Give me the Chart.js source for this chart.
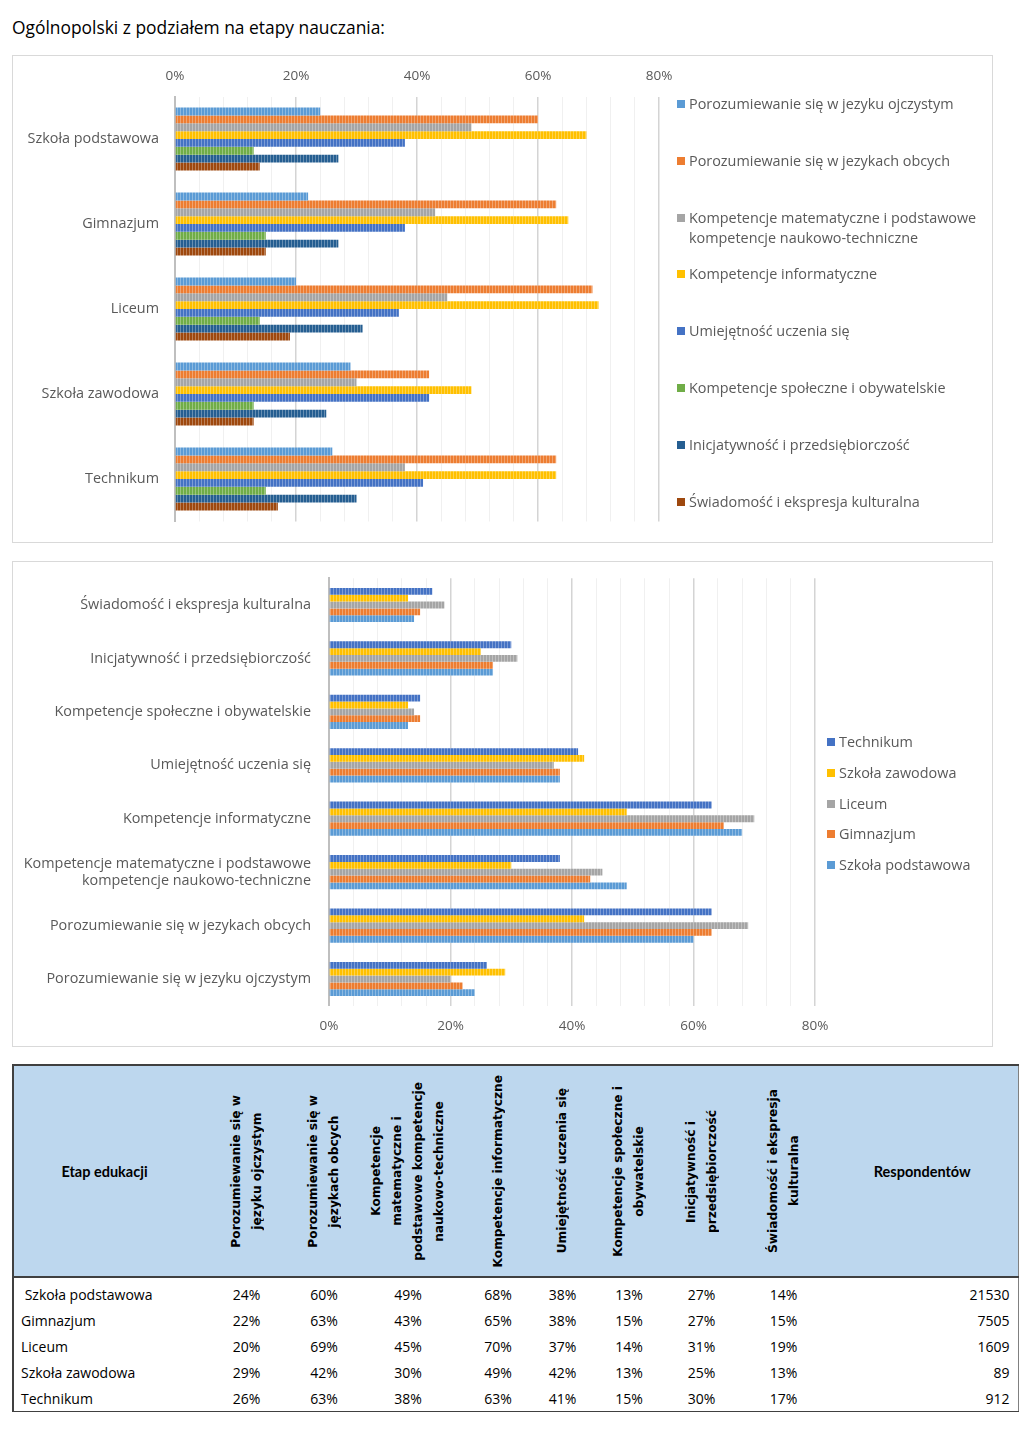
<!DOCTYPE html>
<html lang="pl">
<head>
<meta charset="utf-8">
<title>Kompetencje - etapy nauczania</title>
<script src="https://cdn.jsdelivr.net/npm/chart.js@4.4.1/dist/chart.umd.min.js"></script>
<style>
    body { margin: 0; width: 1024px; height: 1429px; background: #fff; position: relative; overflow: hidden;
           font-family: 'Open Sans', sans-serif; }
    .title { position: absolute; left: 12px; top: 15px; font-size: 17.4px; line-height: 24px; color: #000; }
    .box { position: absolute; left: 12px; width: 979px; border: 1px solid #d9d9d9; background: #fff; }
    #box1 { top: 55px; height: 486px; }
    #box2 { top: 561px; height: 484px; }
    .box canvas { position: absolute; left: 0; top: 0; }
    .legend { position: absolute; left: 0; top: 0; font-size: 14.4px; color: #595959; }
    .legend .item { position: absolute; white-space: nowrap; line-height: 20px; }
    .legend .sw { position: absolute; left: 0; top: 6px; width: 8px; height: 8px; }
    .legend .txt { position: absolute; left: 12px; top: 0; }
    #tbl { position: absolute; left: 12px; top: 1064px; width: 1005px; border-collapse: collapse; table-layout: fixed;
           font-size: 14px; color: #000; border-left: 2px solid #404040; border-right: 1px solid #808080;
           border-bottom: 1px solid #404040; }
    #tbl th { background: #bdd7ee; height: 210px; padding: 0; border-top: 2px solid #404040;
              border-bottom: 2px solid #404040; }
    #tbl th.plain { font-family: Lato, sans-serif; font-weight: bold; font-size: 14.5px; }
    #tbl th.rot div { writing-mode: vertical-rl; transform: rotate(180deg); margin: 0 auto;
                      font-family: 'DejaVu Sans', sans-serif; font-weight: bold; font-size: 12.2px;
                      line-height: 21px; text-align: center; white-space: nowrap; }
    #tbl td { height: 26px; padding: 0; text-align: center; }
    #tbl td.name { text-align: left; padding-left: 7px; }
    #tbl td.num { text-align: right; padding-right: 8px; }
    #tbl tr.gap td { height: 3px; }
</style>
</head>
<body>
<div class="title">Ogólnopolski z podziałem na etapy nauczania:</div>
<div class="box" id="box1"><canvas id="chart1" width="979" height="486"></canvas><div class="legend" id="legend1"></div></div>
<div class="box" id="box2"><canvas id="chart2" width="979" height="484"></canvas><div class="legend" id="legend2"></div></div>
<table id="tbl"></table>
<script>
    // etapy nauczania
    const schools = ['Szkoła podstawowa', 'Gimnazjum', 'Liceum', 'Szkoła zawodowa', 'Technikum'];
    // kompetencje (kolejność jak w tabeli)
    const competences = [
        'Porozumiewanie się w jezyku ojczystym',
        'Porozumiewanie się w jezykach obcych',
        ['Kompetencje matematyczne i podstawowe', 'kompetencje naukowo-techniczne'],
        'Kompetencje informatyczne',
        'Umiejętność uczenia się',
        'Kompetencje społeczne i obywatelskie',
        'Inicjatywność i przedsiębiorczość',
        'Świadomość i ekspresja kulturalna'
    ];
    const table_headers = [
        ['Porozumiewanie się w', 'języku ojczystym'],
        ['Porozumiewanie się w', 'językach obcych'],
        ['Kompetencje', 'matematyczne i', 'podstawowe kompetencje', 'naukowo-techniczne'],
        ['Kompetencje informatyczne'],
        ['Umiejętność uczenia się'],
        ['Kompetencje społeczne i', 'obywatelskie'],
        ['Inicjatywność i', 'przedsiębiorczość'],
        ['Świadomość i ekspresja', 'kulturalna']
    ];
    // wartości w % dla każdego etapu
    const szkola_podstawowa = [24, 60, 49, 68, 38, 13, 27, 14];
    const gimnazjum = [22, 63, 43, 65, 38, 15, 27, 15];
    const liceum = [20, 69, 45, 70, 37, 14, 31, 19];
    const szkola_zawodowa = [29, 42, 30, 49, 42, 13, 25, 13];
    const technikum = [26, 63, 38, 63, 41, 15, 30, 17];
    const respondents = [21530, 7505, 1609, 89, 912];
    const x_ticks = [0, 20, 40, 60, 80];

    const competence_colors = ['#5b9bd5', '#ed7d31', '#a5a5a5', '#ffc000', '#4472c4', '#70ad47', '#255e91', '#9e480e'];
    const school_colors = ['#5b9bd5', '#ed7d31', '#a5a5a5', '#ffc000', '#4472c4'];
    const rows = [szkola_podstawowa, gimnazjum, liceum, szkola_zawodowa, technikum];

    Chart.defaults.font.family = "'Open Sans', sans-serif";
    Chart.defaults.color = '#595959';

    function hatch(color) {
        const c = document.createElement('canvas');
        c.width = 3;
        c.height = 3;
        const g = c.getContext('2d');
        g.fillStyle = color;
        g.fillRect(0, 0, 3, 3);
        g.fillStyle = 'rgba(255,255,255,0.3)';
        g.fillRect(2, 0, 1, 3);
        return g.createPattern(c, 'repeat');
    }

    function is_major(v) {
        return x_ticks.indexOf(Math.round(v)) !== -1 && Math.abs(v - Math.round(v)) < 1e-6;
    }

    function value_axis(position, padding, height) {
        return {
            position: position,
            min: 0,
            max: 80,
            border: { display: false },
            grid: {
                drawTicks: false,
                color: (ctx) => (ctx.tick && is_major(ctx.tick.value)) ? '#d4d4d4' : '#f0f0f0',
                lineWidth: (ctx) => (ctx.tick && is_major(ctx.tick.value)) ? 1.5 : 1
            },
            ticks: {
                stepSize: 4,
                autoSkip: false,
                maxRotation: 0,
                padding: padding,
                font: { size: 13.5 },
                callback: (v) => is_major(v) ? Math.round(v) + '%' : ''
            },
            afterFit: (scale) => { scale.height = height; }
        };
    }

    function category_axis(width, padding) {
        return {
            grid: { display: false, drawTicks: false },
            border: { color: '#bfbfbf', width: 2 },
            ticks: { padding: padding, font: { size: 14.4 }, color: '#595959', autoSkip: false },
            afterFit: (scale) => {
                // the plot area is set by layout padding only
                scale.width = width;
                scale.paddingTop = 0;
                scale.paddingBottom = 0;
            }
        };
    }

    function build_legend(elem, items, left, first, step) {
        items.forEach((it, i) => {
            const div = document.createElement('div');
            div.className = 'item';
            div.style.left = left + 'px';
            div.style.top = (first + i * step - 10) + 'px';
            const sw = document.createElement('div');
            sw.className = 'sw';
            sw.style.background = it.color;
            const txt = document.createElement('div');
            txt.className = 'txt';
            txt.innerHTML = [].concat(it.label).join('<br>');
            div.appendChild(sw);
            div.appendChild(txt);
            elem.appendChild(div);
        });
    }

    // wykres 1: etapy na osi, kompetencje jako serie
    const datasets1 = competences.map((name, j) => ({
        label: [].concat(name).join(' '),
        data: rows.map((r) => r[j]),
        backgroundColor: hatch(competence_colors[j]),
        borderWidth: 0,
        categoryPercentage: 0.74,
        barPercentage: 1.0
    }));

    new Chart(document.getElementById('chart1'), {
        type: 'bar',
        data: { labels: schools, datasets: datasets1 },
        options: {
            indexAxis: 'y',
            responsive: false,
            animation: false,
            layout: { padding: { left: 0, top: 0, right: 333, bottom: 20.5 } },
            plugins: { legend: { display: false }, tooltip: { enabled: false } },
            scales: {
                x: value_axis('top', 12.5, 40.5),
                y: category_axis(162, 16)
            }
        }
    });
    build_legend(document.getElementById('legend1'),
        competences.map((name, j) => ({ label: name, color: competence_colors[j] })),
        664, 48, 56.8);

    // wykres 2: kompetencje na osi, etapy jako serie (od góry: Technikum)
    const order2 = [4, 3, 2, 1, 0];
    const comp_rev = competences.slice().reverse();
    const datasets2 = order2.map((s) => ({
        label: schools[s],
        data: rows[s].slice().reverse(),
        backgroundColor: hatch(school_colors[s]),
        borderWidth: 0,
        categoryPercentage: 0.64,
        barPercentage: 1.0
    }));

    new Chart(document.getElementById('chart2'), {
        type: 'bar',
        data: { labels: comp_rev, datasets: datasets2 },
        options: {
            indexAxis: 'y',
            responsive: false,
            animation: false,
            layout: { padding: { left: 0, top: 16.3, right: 177, bottom: 10.3 } },
            plugins: { legend: { display: false }, tooltip: { enabled: false } },
            scales: {
                x: value_axis('bottom', 12, 30),
                y: category_axis(316, 18)
            }
        }
    });
    build_legend(document.getElementById('legend2'),
        order2.map((s) => ({ label: schools[s], color: school_colors[s] })),
        814, 180, 30.75);

    // tabela
    const col_widths = [182, 103, 52, 116, 64, 65, 68, 77, 87, 191];
    let html = '<colgroup>' + col_widths.map((w) => '<col style="width:' + w + 'px">').join('') + '</colgroup>';
    html += '<thead><tr><th class="plain">Etap edukacji</th>';
    table_headers.forEach((h) => { html += '<th class="rot"><div>' + h.join('<br>') + '</div></th>'; });
    html += '<th class="plain">Respondentów</th></tr></thead><tbody><tr class="gap"><td colspan="10"></td></tr>';
    schools.forEach((name, i) => {
        html += '<tr><td class="name">' + (i === 0 ? '&nbsp;' : '') + name + '</td>';
        rows[i].forEach((v) => { html += '<td>' + v + '%</td>'; });
        html += '<td class="num">' + respondents[i] + '</td></tr>';
    });
    html += '</tbody>';
    document.getElementById('tbl').innerHTML = html;
</script>
</body>
</html>
